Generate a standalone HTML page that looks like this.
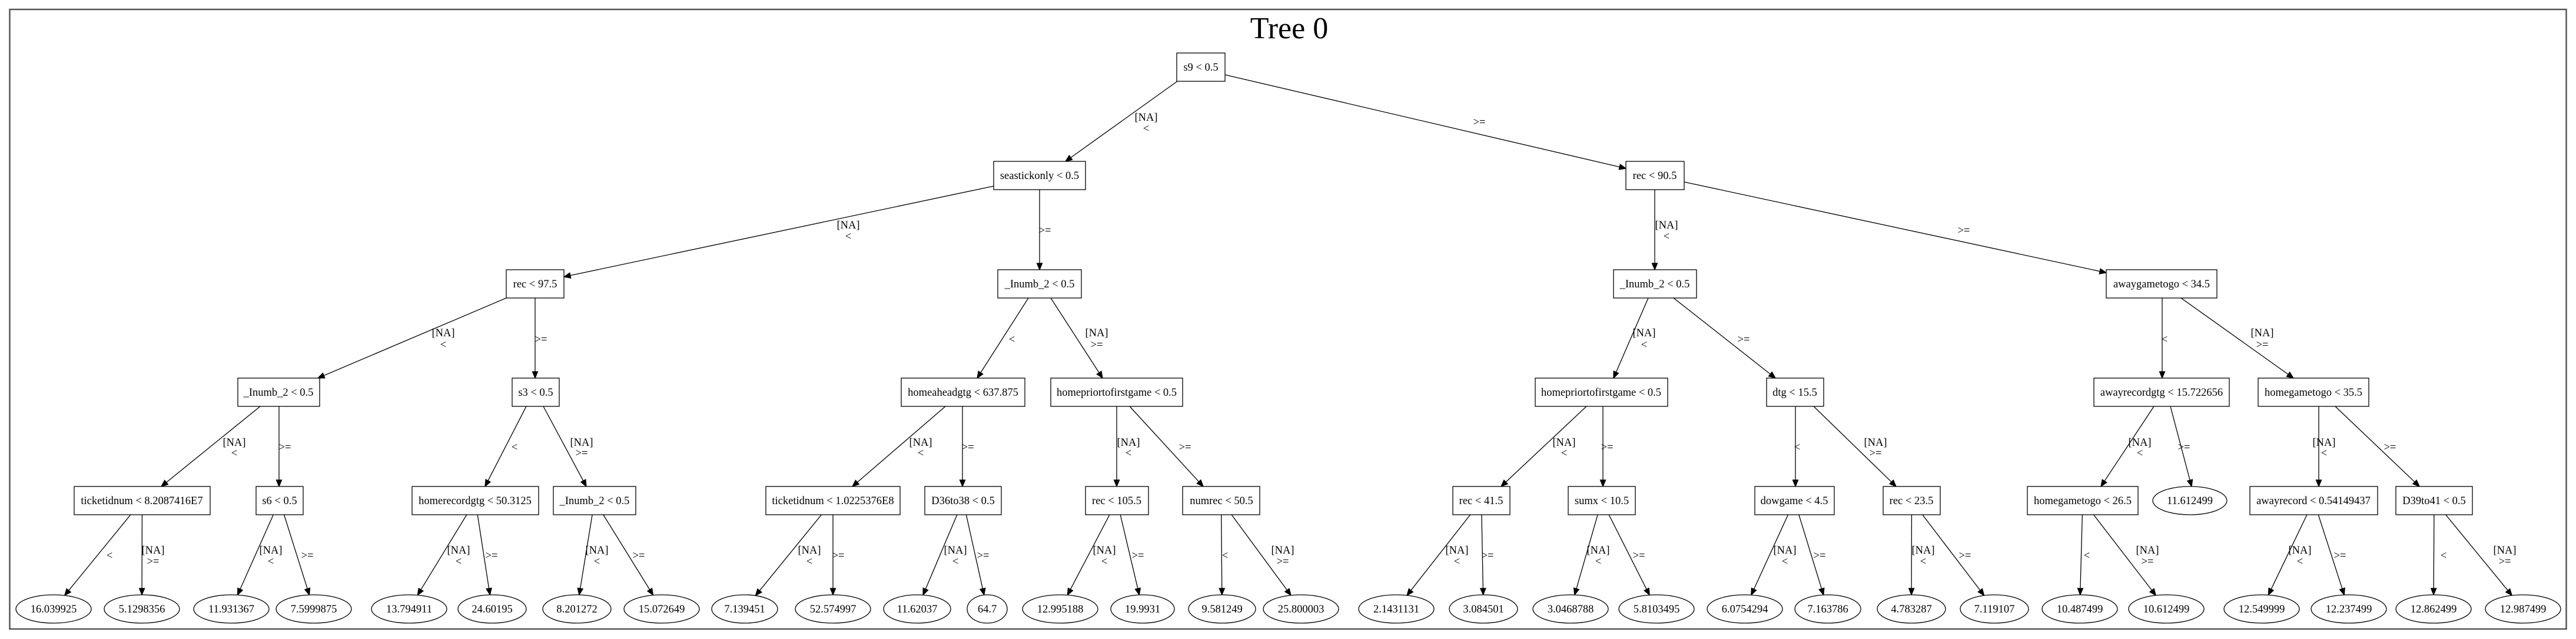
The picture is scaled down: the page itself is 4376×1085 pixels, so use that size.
<!DOCTYPE html>
<html><head><meta charset="utf-8"><style>
html,body{margin:0;padding:0;background:#fff;}
svg{display:block;}
text{font-family:"Liberation Serif",serif;font-size:18.5px;fill:#000;}
.t{font-size:52px;}
</style></head><body>
<svg id="s" width="4376" height="1085" viewBox="0 0 4376 1085" xmlns="http://www.w3.org/2000/svg">
<rect x="0" y="0" width="4376" height="1085" fill="#fff"/>
<rect x="16.5" y="16" width="4343" height="1052" fill="none" stroke="#555" stroke-width="2.5"/>
<text class="t" x="2190" y="65" text-anchor="middle">Tree 0</text>
<g id="edges" stroke="#000" stroke-width="1.3" fill="#000"></g>
<g fill="#fff" stroke="#000" stroke-width="1.3">
<rect x="1999" y="90" width="82" height="48"/>
<rect x="1688" y="274" width="156" height="48"/>
<rect x="2762" y="274" width="99" height="48"/>
<rect x="860" y="458" width="98" height="48"/>
<rect x="1695" y="458" width="142" height="48"/>
<rect x="2741" y="458" width="141" height="48"/>
<rect x="3578" y="458" width="188" height="48"/>
<rect x="404" y="642" width="139" height="48"/>
<rect x="870" y="642" width="80" height="48"/>
<rect x="1531" y="642" width="210" height="48"/>
<rect x="1785" y="642" width="224" height="48"/>
<rect x="2608" y="642" width="225" height="48"/>
<rect x="3001" y="642" width="97" height="48"/>
<rect x="3557" y="642" width="230" height="48"/>
<rect x="3836" y="642" width="188" height="48"/>
<rect x="126" y="826" width="231" height="48"/>
<rect x="435" y="826" width="80" height="48"/>
<rect x="700" y="826" width="215" height="48"/>
<rect x="940" y="826" width="140" height="48"/>
<rect x="1301" y="826" width="228" height="48"/>
<rect x="1571" y="826" width="130" height="48"/>
<rect x="1844" y="826" width="107" height="48"/>
<rect x="2009" y="826" width="131" height="48"/>
<rect x="2468" y="826" width="97" height="48"/>
<rect x="2664" y="826" width="114" height="48"/>
<rect x="2981" y="826" width="135" height="48"/>
<rect x="3199" y="826" width="97" height="48"/>
<rect x="3444" y="826" width="188" height="48"/>
<ellipse cx="3720" cy="850" rx="63" ry="24"/>
<rect x="3822" y="826" width="217" height="48"/>
<rect x="4070" y="826" width="130" height="48"/>
<ellipse cx="91" cy="1034" rx="64" ry="24"/><ellipse cx="241" cy="1034" rx="64" ry="24"/>
<ellipse cx="393" cy="1034" rx="64" ry="24"/><ellipse cx="533" cy="1034" rx="64" ry="24"/>
<ellipse cx="695" cy="1034" rx="64" ry="24"/><ellipse cx="836" cy="1034" rx="58" ry="24"/>
<ellipse cx="980" cy="1034" rx="58" ry="24"/><ellipse cx="1124" cy="1034" rx="64" ry="24"/>
<ellipse cx="1265" cy="1034" rx="56" ry="24"/><ellipse cx="1415" cy="1034" rx="64" ry="24"/>
<ellipse cx="1558" cy="1034" rx="57" ry="24"/><ellipse cx="1677" cy="1034" rx="34" ry="24"/>
<ellipse cx="1801" cy="1034" rx="64" ry="24"/><ellipse cx="1941" cy="1034" rx="54" ry="24"/>
<ellipse cx="2076" cy="1034" rx="57" ry="24"/><ellipse cx="2210" cy="1034" rx="64" ry="24"/>
<ellipse cx="2372" cy="1034" rx="64" ry="24"/><ellipse cx="2520" cy="1034" rx="58" ry="24"/>
<ellipse cx="2668" cy="1034" rx="64" ry="24"/><ellipse cx="2814" cy="1034" rx="64" ry="24"/>
<ellipse cx="2964" cy="1034" rx="64" ry="24"/><ellipse cx="3105" cy="1034" rx="56" ry="24"/>
<ellipse cx="3247" cy="1034" rx="58" ry="24"/><ellipse cx="3388" cy="1034" rx="58" ry="24"/>
<ellipse cx="3533" cy="1034" rx="64" ry="24"/><ellipse cx="3680" cy="1034" rx="64" ry="24"/>
<ellipse cx="3842" cy="1034" rx="64" ry="24"/><ellipse cx="3990" cy="1034" rx="64" ry="24"/>
<ellipse cx="4134" cy="1034" rx="64" ry="24"/><ellipse cx="4286" cy="1034" rx="64" ry="24"/>
</g>
<g text-anchor="middle">
<text x="2040" y="120">s9 &lt; 0.5</text>
<text x="1766" y="304">seastickonly &lt; 0.5</text>
<text x="2811" y="304">rec &lt; 90.5</text>
<text x="909" y="488">rec &lt; 97.5</text>
<text x="1766" y="488">_Inumb_2 &lt; 0.5</text>
<text x="2811" y="488">_Inumb_2 &lt; 0.5</text>
<text x="3672" y="488">awaygametogo &lt; 34.5</text>
<text x="473" y="672">_Inumb_2 &lt; 0.5</text>
<text x="910" y="672">s3 &lt; 0.5</text>
<text x="1636" y="672">homeaheadgtg &lt; 637.875</text>
<text x="1897" y="672">homepriortofirstgame &lt; 0.5</text>
<text x="2720" y="672">homepriortofirstgame &lt; 0.5</text>
<text x="3049" y="672">dtg &lt; 15.5</text>
<text x="3672" y="672">awayrecordgtg &lt; 15.722656</text>
<text x="3930" y="672">homegametogo &lt; 35.5</text>
<text x="241" y="856">ticketidnum &lt; 8.2087416E7</text>
<text x="475" y="856">s6 &lt; 0.5</text>
<text x="807" y="856">homerecordgtg &lt; 50.3125</text>
<text x="1010" y="856">_Inumb_2 &lt; 0.5</text>
<text x="1415" y="856">ticketidnum &lt; 1.0225376E8</text>
<text x="1636" y="856">D36to38 &lt; 0.5</text>
<text x="1897" y="856">rec &lt; 105.5</text>
<text x="2075" y="856">numrec &lt; 50.5</text>
<text x="2516" y="856">rec &lt; 41.5</text>
<text x="2721" y="856">sumx &lt; 10.5</text>
<text x="3048" y="856">dowgame &lt; 4.5</text>
<text x="3247" y="856">rec &lt; 23.5</text>
<text x="3538" y="856">homegametogo &lt; 26.5</text>
<text x="3720" y="856">11.612499</text>
<text x="3930" y="856">awayrecord &lt; 0.54149437</text>
<text x="4135" y="856">D39to41 &lt; 0.5</text>
<text x="91" y="1040">16.039925</text><text x="241" y="1040">5.1298356</text>
<text x="393" y="1040">11.931367</text><text x="533" y="1040">7.5999875</text>
<text x="695" y="1040">13.794911</text><text x="836" y="1040">24.60195</text>
<text x="980" y="1040">8.201272</text><text x="1124" y="1040">15.072649</text>
<text x="1265" y="1040">7.139451</text><text x="1415" y="1040">52.574997</text>
<text x="1558" y="1040">11.62037</text><text x="1677" y="1040">64.7</text>
<text x="1801" y="1040">12.995188</text><text x="1941" y="1040">19.9931</text>
<text x="2076" y="1040">9.581249</text><text x="2210" y="1040">25.800003</text>
<text x="2372" y="1040">2.1431131</text><text x="2520" y="1040">3.084501</text>
<text x="2668" y="1040">3.0468788</text><text x="2814" y="1040">5.8103495</text>
<text x="2964" y="1040">6.0754294</text><text x="3105" y="1040">7.163786</text>
<text x="3247" y="1040">4.783287</text><text x="3388" y="1040">7.119107</text>
<text x="3533" y="1040">10.487499</text><text x="3680" y="1040">10.612499</text>
<text x="3842" y="1040">12.549999</text><text x="3990" y="1040">12.237499</text>
<text x="4134" y="1040">12.862499</text><text x="4286" y="1040">12.987499</text>
<text x="1947" y="205">[NA]</text><text x="1947" y="224">&lt;</text>
<text x="2513" y="213">&gt;=</text>
<text x="1441" y="388">[NA]</text><text x="1441" y="407">&lt;</text>
<text x="1775" y="397">&gt;=</text>
<text x="2831" y="388">[NA]</text><text x="2831" y="407">&lt;</text>
<text x="3336" y="397">&gt;=</text>
<text x="753" y="571">[NA]</text><text x="753" y="591">&lt;</text>
<text x="919" y="582">&gt;=</text>
<text x="1719" y="582">&lt;</text>
<text x="1863" y="571">[NA]</text><text x="1863" y="591">&gt;=</text>
<text x="2793" y="571">[NA]</text><text x="2793" y="591">&lt;</text>
<text x="2962" y="582">&gt;=</text>
<text x="3677" y="582">&lt;</text>
<text x="3843" y="571">[NA]</text><text x="3843" y="591">&gt;=</text>
<text x="398" y="757">[NA]</text><text x="398" y="775">&lt;</text>
<text x="484" y="765">&gt;=</text>
<text x="874" y="765">&lt;</text>
<text x="988" y="757">[NA]</text><text x="988" y="775">&gt;=</text>
<text x="1564" y="757">[NA]</text><text x="1564" y="775">&lt;</text>
<text x="1644" y="765">&gt;=</text>
<text x="1917" y="757">[NA]</text><text x="1917" y="775">&lt;</text>
<text x="2013" y="765">&gt;=</text>
<text x="2657" y="757">[NA]</text><text x="2657" y="775">&lt;</text>
<text x="2730" y="765">&gt;=</text>
<text x="3053" y="765">&lt;</text>
<text x="3186" y="757">[NA]</text><text x="3186" y="775">&gt;=</text>
<text x="3635" y="757">[NA]</text><text x="3635" y="775">&lt;</text>
<text x="3710" y="765">&gt;=</text>
<text x="3948" y="757">[NA]</text><text x="3948" y="775">&lt;</text>
<text x="4060" y="765">&gt;=</text>
<text x="186" y="949">&lt;</text>
<text x="260" y="940">[NA]</text><text x="260" y="959">&gt;=</text>
<text x="460" y="940">[NA]</text><text x="460" y="959">&lt;</text>
<text x="522" y="949">&gt;=</text>
<text x="779" y="940">[NA]</text><text x="779" y="959">&lt;</text>
<text x="835" y="949">&gt;=</text>
<text x="1014" y="940">[NA]</text><text x="1014" y="959">&lt;</text>
<text x="1085" y="949">&gt;=</text>
<text x="1375" y="940">[NA]</text><text x="1375" y="959">&lt;</text>
<text x="1424" y="949">&gt;=</text>
<text x="1623" y="940">[NA]</text><text x="1623" y="959">&lt;</text>
<text x="1670" y="949">&gt;=</text>
<text x="1876" y="940">[NA]</text><text x="1876" y="959">&lt;</text>
<text x="1933" y="949">&gt;=</text>
<text x="2081" y="949">&lt;</text>
<text x="2179" y="940">[NA]</text><text x="2179" y="959">&gt;=</text>
<text x="2475" y="940">[NA]</text><text x="2475" y="959">&lt;</text>
<text x="2527" y="949">&gt;=</text>
<text x="2715" y="940">[NA]</text><text x="2715" y="959">&lt;</text>
<text x="2784" y="949">&gt;=</text>
<text x="3032" y="940">[NA]</text><text x="3032" y="959">&lt;</text>
<text x="3091" y="949">&gt;=</text>
<text x="3267" y="940">[NA]</text><text x="3267" y="959">&lt;</text>
<text x="3338" y="949">&gt;=</text>
<text x="3545" y="949">&lt;</text>
<text x="3648" y="940">[NA]</text><text x="3648" y="959">&gt;=</text>
<text x="3907" y="940">[NA]</text><text x="3907" y="959">&lt;</text>
<text x="3975" y="949">&gt;=</text>
<text x="4151" y="949">&lt;</text>
<text x="4255" y="940">[NA]</text><text x="4255" y="959">&gt;=</text>
</g>
</svg>
<script>
(function(){
var B=function(x1,x2,y){return {cx:(x1+x2)/2,cy:y+24,hw:(x2-x1)/2,hh:24,e:0};};
var E=function(cx,cy,rx){return {cx:cx,cy:cy,hw:rx,hh:24,e:1};};
var N={A:B(1999,2081,90),B:B(1688,1844,274),C:B(2762,2861,274),D:B(860,958,458),Ee:B(1695,1837,458),F:B(2741,2882,458),G:B(3578,3766,458),
H:B(404,543,642),I:B(870,950,642),J:B(1531,1741,642),K:B(1785,2009,642),L:B(2608,2833,642),M:B(3001,3098,642),Nn:B(3557,3787,642),O:B(3836,4024,642),
P:B(126,357,826),Q:B(435,515,826),R:B(700,915,826),S:B(940,1080,826),T:B(1301,1529,826),U:B(1571,1701,826),V:B(1844,1951,826),W:B(2009,2140,826),
X:B(2468,2565,826),Y:B(2664,2778,826),Z:B(2981,3116,826),AA:B(3199,3296,826),AB:B(3444,3632,826),AC:E(3720,850,63),AD:B(3822,4039,826),AE:B(4070,4200,826)};
var lc=[91,241,393,533,695,836,980,1124,1265,1415,1558,1677,1801,1941,2076,2210,2372,2520,2668,2814,2964,3105,3247,3388,3533,3680,3842,3990,4134,4286];
var lr=[64,64,64,64,64,58,58,64,56,64,57,34,64,54,57,64,64,58,64,64,64,56,58,58,64,64,64,64,64,64];
for(var i=0;i<30;i++)N['l'+(i+1)]=E(lc[i],1034,lr[i]);
var OV={'A>B':[2000,138,1810,274],'A>C':[2081,127,2762,286],'B>D':[1688,316,958,470],'B>Ee':[1766,322,1766,458],
'C>F':[2811,322,2811,458],'C>G':[2861,309,3578,463],'D>H':[860,506,540,642],'D>I':[909,506,909,642],
'Ee>J':[1747,506,1660,642],'Ee>K':[1785,506,1873,642],'F>L':[2800,506,2741,642],'F>M':[2843,506,3016,642],
'G>Nn':[3673,506,3673,642],'G>O':[3705,506,3896,642],
'H>P':[442,690,274,826],'H>Q':[474,690,474,826],'I>R':[894,690,824,826],'I>S':[923,690,996,826],
'J>T':[1606,690,1448,826],'J>U':[1635,690,1635,826],'K>V':[1897,690,1897,826],'K>W':[1919,690,2044,826],
'L>X':[2695,690,2550,826],'L>Y':[2723,690,2723,826],'M>Z':[3050,690,3050,826],'M>AA':[3081,690,3221,826],
'Nn>AB':[3659,690,3569,826],'Nn>AC':[3687,690,3723,826],'O>AD':[3939,690,3939,826],'O>AE':[3967,690,4110,826]};
var ed=[['A','B'],['A','C'],['B','D'],['B','Ee'],['C','F'],['C','G'],['D','H'],['D','I'],['Ee','J'],['Ee','K'],['F','L'],['F','M'],['G','Nn'],['G','O'],
['H','P'],['H','Q'],['I','R'],['I','S'],['J','T'],['J','U'],['K','V'],['K','W'],['L','X'],['L','Y'],['M','Z'],['M','AA'],['Nn','AB'],['Nn','AC'],['O','AD'],['O','AE']];
var par=['P','Q','R','S','T','U','V','W','X','Y','Z','AA','AB','AD','AE'];
for(var j=0;j<15;j++){ed.push([par[j],'l'+(2*j+1)]);ed.push([par[j],'l'+(2*j+2)]);}
function clip(n,dx,dy){var t;if(n.e){t=1/Math.sqrt((dx/n.hw)*(dx/n.hw)+(dy/n.hh)*(dy/n.hh));}else{var a=dx?n.hw/Math.abs(dx):1e9,b=dy?n.hh/Math.abs(dy):1e9;t=Math.min(a,b);}return t;}
var g=document.getElementById('edges'),h='';
ed.forEach(function(e){var x0,y0,x1,y1,o=OV[e[0]+'>'+e[1]];
if(o){x0=o[0];y0=o[1];x1=o[2];y1=o[3];}else{var p=N[e[0]],c=N[e[1]];var dx=c.cx-p.cx,dy=c.cy-p.cy;
var t0=clip(p,dx,dy),t1=1-clip(c,-dx,-dy);x0=p.cx+dx*t0;y0=p.cy+dy*t0;x1=p.cx+dx*t1;y1=p.cy+dy*t1;}
var ddx=x1-x0,ddy=y1-y0,L=Math.sqrt(ddx*ddx+ddy*ddy),ux=ddx/L,uy=ddy/L,al=11,aw=4.5;
var bx=x1-ux*al,by=y1-uy*al;
h+='<line x1="'+x0+'" y1="'+y0+'" x2="'+bx+'" y2="'+by+'" fill="none"/>';
h+='<polygon points="'+x1+','+y1+' '+(bx-uy*aw)+','+(by+ux*aw)+' '+(bx+uy*aw)+','+(by-ux*aw)+'"/>';});
g.innerHTML=h;
})();
</script>
</body></html>
